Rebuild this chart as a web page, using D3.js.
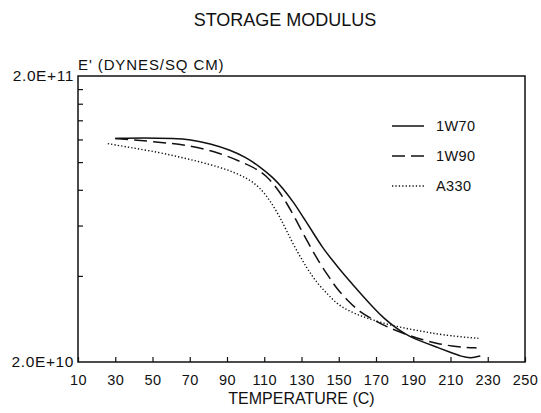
<!DOCTYPE html>
<html>
<head>
<meta charset="utf-8">
<script src="https://cdn.jsdelivr.net/npm/d3@7"></script>
<style>
  body { margin: 0; background: #fff; }
  svg { font-family: "Liberation Sans", Arial, sans-serif; }
</style>
</head>
<body>
<div id="chart"></div>
<script>
// temperatures (C) and storage modulus (dynes/sq cm)
var temp1W70 = [30, 45, 62, 70, 81, 92, 100, 108, 115, 120, 126, 131, 136, 141, 147, 152, 158, 163, 169, 174, 181, 188, 196, 203, 210, 216, 221, 226];
var mod1W70 = [12.1e10, 12.15e10, 12.1e10, 12.0e10, 11.6e10, 11.0e10, 10.4e10, 9.6e10, 8.8e10, 8.1e10, 7.2e10, 6.4e10, 5.7e10, 5.05e10,
	4.5e10, 4.1e10, 3.7e10, 3.4e10, 3.08e10, 2.85e10, 2.62e10, 2.45e10, 2.34e10, 2.25e10, 2.16e10, 2.09e10, 2.06e10, 2.1e10];

var temp1W90 = [30, 50, 68, 86, 101, 108, 113, 118, 122, 127, 131, 136, 140, 145, 149, 155, 161, 169, 177, 186, 195, 203, 211, 218, 224];
var mod1W90 = [12.1e10, 11.8e10, 11.5e10, 10.8e10, 9.8e10, 9.3e10, 8.7e10, 7.9e10, 7.2e10, 6.3e10, 5.6e10, 4.9e10, 4.4e10, 3.95e10,
	3.6e10, 3.27e10, 3.0e10, 2.8e10, 2.63e10, 2.5e10, 2.39e10, 2.32e10, 2.27e10, 2.25e10, 2.24e10];

var tempA330 = [26, 38, 54, 65, 76, 86, 94, 102, 108, 113, 118, 122, 127, 133, 138, 144, 149, 154, 160, 165, 171, 178, 185, 192, 199, 206, 215, 225];
var modA330 = [11.6e10, 11.25e10, 10.8e10, 10.4e10, 10.0e10, 9.6e10, 9.2e10, 8.7e10, 8.1e10, 7.35e10, 6.5e10, 5.75e10, 4.95e10,
	4.25e10, 3.8e10, 3.45e10, 3.2e10, 3.05e10, 2.93e10, 2.85e10, 2.77e10, 2.69e10, 2.63e10, 2.58e10, 2.53e10, 2.49e10, 2.45e10, 2.42e10];

var seriesNames = ['1W70', '1W90', 'A330'];
var xTickValues = [10, 30, 50, 70, 90, 110, 130, 150, 170, 190, 210, 230, 250];
var yMinorTicks = [4e10, 6e10, 8e10, 1e11, 1.2e11, 1.4e11, 1.6e11, 1.8e11];
var yLabelTicks = [2e10, 2e11];

var margin = {top: 76, right: 16, bottom: 51, left: 78};
var width = 541 - margin.left - margin.right;
var height = 413 - margin.top - margin.bottom;

var x = d3.scaleLinear().domain([10, 250]).range([0, width]);
var y = d3.scaleLog().domain([2e10, 2e11]).range([height, 0]);

var svg = d3.select('#chart')
	.append('svg')
	.attr('width', width + margin.left + margin.right)
	.attr('height', height + margin.top + margin.bottom);

var g = svg.append('g')
	.attr('transform', 'translate(' + margin.left + ',' + margin.top + ')');

var series = [
	{name: seriesNames[0], t: temp1W70, v: mod1W70, dash: null, sw: 1.5},
	{name: seriesNames[1], t: temp1W90, v: mod1W90, dash: '13,6', sw: 1.5},
	{name: seriesNames[2], t: tempA330, v: modA330, dash: '1.3,2.1', sw: 1.4}
];

var line = d3.line()
	.x(function(d) {return x(d[0]);})
	.y(function(d) {return y(d[1]);})
	.curve(d3.curveBasis);

series.forEach(function(s) {
	var pts = s.t.map(function(t, i) {return [t, s.v[i]];});
	g.append('path')
		.datum(pts)
		.attr('d', line)
		.style('fill', 'none')
		.style('stroke', '#111')
		.style('stroke-width', s.sw)
		.style('stroke-dasharray', s.dash);
});

// frame
g.append('rect')
	.attr('width', width)
	.attr('height', height)
	.style('fill', 'none')
	.style('stroke', '#111')
	.style('stroke-width', 1.5);

// x ticks point inward
var xAxis = g.append('g')
	.attr('transform', 'translate(0,' + height + ')')
	.call(d3.axisBottom(x)
		.tickValues(xTickValues)
		.tickSizeInner(-5)
		.tickSizeOuter(0)
		.tickPadding(13));
xAxis.select('.domain').remove();
xAxis.selectAll('text')
	.style('font-size', '14.5px')
	.style('letter-spacing', '0.4px')
	.style('fill', '#111');
xAxis.selectAll('line').style('stroke', '#111').style('stroke-width', 1.2);

// y ticks inward, labels only at the ends
var yAxis = g.append('g')
	.call(d3.axisLeft(y)
		.tickValues(yMinorTicks)
		.tickSizeInner(-5)
		.tickSizeOuter(0)
		.tickFormat(''));
yAxis.select('.domain').remove();
yAxis.selectAll('line').style('stroke', '#111').style('stroke-width', 1.2);

g.selectAll('.ylab')
	.data(yLabelTicks)
	.enter()
	.append('text')
	.attr('class', 'ylab')
	.attr('x', -4)
	.attr('y', function(d) {return y(d) + 5;})
	.style('text-anchor', 'end')
	.style('font-size', '15.5px')
	.style('letter-spacing', '0.6px')
	.style('fill', '#111')
	.text(function(d) {return d3.format('.1e')(d).toUpperCase();});

svg.append('text')
	.attr('x', 285)
	.attr('y', 26)
	.style('text-anchor', 'middle')
	.style('font-size', '18px')
	.style('fill', '#111')
	.text('STORAGE MODULUS');

svg.append('text')
	.attr('x', margin.left)
	.attr('y', 70)
	.style('font-size', '15px')
	.style('letter-spacing', '0.9px')
	.style('fill', '#111')
	.text('E\' (DYNES/SQ CM)');

svg.append('text')
	.attr('x', margin.left + width / 2)
	.attr('y', 404)
	.style('text-anchor', 'middle')
	.style('font-size', '16px')
	.style('fill', '#111')
	.text('TEMPERATURE (C)');

// legend
var legend = svg.append('g');
series.forEach(function(s, i) {
	var ly = 126 + i * 30;
	legend.append('line')
		.attr('x1', 392).attr('x2', 424)
		.attr('y1', ly).attr('y2', ly)
		.style('stroke', '#111')
		.style('stroke-width', s.sw)
		.style('stroke-dasharray', s.dash);
	legend.append('text')
		.attr('x', 436)
		.attr('y', ly + 5)
		.style('font-size', '14.5px')
		.style('letter-spacing', '0.4px')
		.style('fill', '#111')
		.text(s.name);
});
</script>
</body>
</html>
